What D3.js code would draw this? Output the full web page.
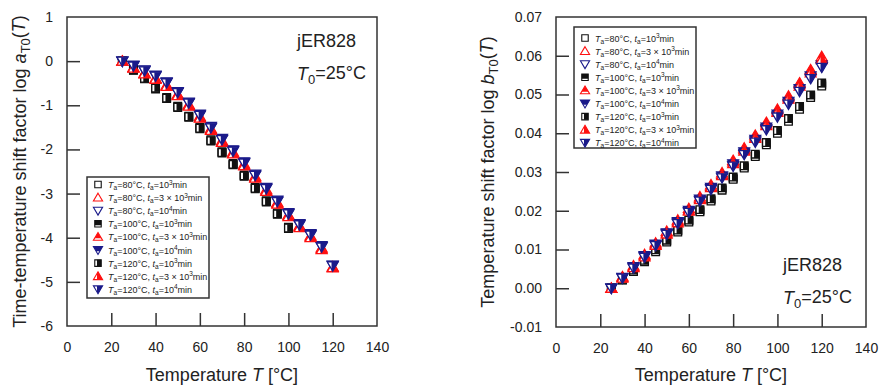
<!DOCTYPE html>
<html>
<head>
<meta charset="utf-8">
<script src="https://cdn.jsdelivr.net/npm/d3@7"></script>
<style>
  body { margin: 0; background: #fff; }
  svg text { font-family: "Liberation Sans", Arial, sans-serif; fill: #222; }
</style>
</head>
<body>
<div id="chart"></div>
<script>
// temperatures of the measured points [degC]
var temps = [25, 30, 35, 40, 45, 50, 55, 60, 65, 70, 75, 80, 85, 90, 95, 100, 105, 110, 115, 120];

// log aT0(T), left panel (square series stop at 100 degC)
var aSq80  = [0, -0.19, -0.38, -0.60, -0.82, -1.02, -1.25, -1.50, -1.78, -2.05, -2.32, -2.58, -2.86, -3.16, -3.44, -3.76];
var aUp80  = [0, -0.15, -0.28, -0.40, -0.56, -0.77, -1.00, -1.28, -1.55, -1.83, -2.09, -2.36, -2.64, -2.94, -3.22, -3.50, -3.75, -3.98, -4.25, -4.67];
var aDn80  = [0, -0.10, -0.21, -0.33, -0.48, -0.70, -0.94, -1.22, -1.50, -1.77, -2.03, -2.30, -2.58, -2.88, -3.17, -3.45, -3.70, -3.93, -4.20, -4.63];
var aSq100 = [0, -0.21, -0.40, -0.63, -0.85, -1.05, -1.27, -1.53, -1.81, -2.08, -2.35, -2.61, -2.89, -3.19, -3.47, -3.79];
var aUp100 = [0, -0.14, -0.27, -0.39, -0.54, -0.75, -0.98, -1.25, -1.53, -1.80, -2.06, -2.33, -2.61, -2.91, -3.20, -3.48, -3.73, -3.96, -4.23, -4.66];
var aDn100 = [0, -0.09, -0.20, -0.32, -0.47, -0.69, -0.93, -1.20, -1.48, -1.75, -2.01, -2.28, -2.56, -2.86, -3.15, -3.43, -3.68, -3.91, -4.18, -4.62];
var aSq120 = [0, -0.20, -0.39, -0.61, -0.84, -1.04, -1.26, -1.52, -1.80, -2.07, -2.34, -2.60, -2.88, -3.18, -3.46, -3.78];
var aUp120 = [0, -0.16, -0.29, -0.41, -0.57, -0.78, -1.02, -1.29, -1.57, -1.84, -2.10, -2.37, -2.65, -2.95, -3.24, -3.52, -3.77, -4.00, -4.27, -4.68];
var aDn120 = [0, -0.11, -0.22, -0.34, -0.49, -0.71, -0.95, -1.23, -1.51, -1.78, -2.04, -2.31, -2.59, -2.89, -3.18, -3.46, -3.71, -3.94, -4.21, -4.64];

// log bT0(T), right panel
var bSq80  = [0, 0.0022, 0.0045, 0.0070, 0.0097, 0.0122, 0.0148, 0.0174, 0.0200, 0.0228, 0.0256, 0.0284, 0.0313, 0.0343, 0.0373, 0.0404, 0.0435, 0.0466, 0.0496, 0.0526];
var bUp80  = [0, 0.0028, 0.0055, 0.0084, 0.0114, 0.0143, 0.0172, 0.0202, 0.0232, 0.0263, 0.0294, 0.0326, 0.0358, 0.0391, 0.0424, 0.0458, 0.0492, 0.0527, 0.0561, 0.0594];
var bDn80  = [0, 0.0027, 0.0054, 0.0082, 0.0112, 0.0141, 0.0169, 0.0198, 0.0227, 0.0257, 0.0287, 0.0317, 0.0348, 0.0380, 0.0412, 0.0445, 0.0478, 0.0511, 0.0544, 0.0572];
var bSq100 = [0, 0.0021, 0.0043, 0.0068, 0.0094, 0.0119, 0.0145, 0.0171, 0.0197, 0.0225, 0.0253, 0.0281, 0.0310, 0.0340, 0.0370, 0.0400, 0.0431, 0.0462, 0.0492, 0.0522];
var bUp100 = [0, 0.0030, 0.0058, 0.0087, 0.0117, 0.0147, 0.0176, 0.0206, 0.0236, 0.0267, 0.0298, 0.0330, 0.0362, 0.0395, 0.0428, 0.0462, 0.0496, 0.0530, 0.0564, 0.0598];
var bDn100 = [0, 0.0028, 0.0056, 0.0084, 0.0114, 0.0143, 0.0172, 0.0201, 0.0230, 0.0260, 0.0290, 0.0321, 0.0352, 0.0384, 0.0416, 0.0449, 0.0482, 0.0515, 0.0548, 0.0576];
var bSq120 = [0, 0.0023, 0.0047, 0.0072, 0.0099, 0.0124, 0.0150, 0.0176, 0.0203, 0.0231, 0.0259, 0.0287, 0.0316, 0.0346, 0.0376, 0.0407, 0.0438, 0.0469, 0.0499, 0.0530];
var bUp120 = [0, 0.0026, 0.0053, 0.0081, 0.0111, 0.0140, 0.0169, 0.0199, 0.0229, 0.0260, 0.0291, 0.0322, 0.0354, 0.0387, 0.0420, 0.0454, 0.0488, 0.0522, 0.0556, 0.0590];
var bDn120 = [0, 0.0026, 0.0052, 0.0080, 0.0110, 0.0139, 0.0167, 0.0196, 0.0225, 0.0255, 0.0285, 0.0315, 0.0345, 0.0377, 0.0409, 0.0442, 0.0475, 0.0508, 0.0541, 0.0570];

var leftSeries = [aSq80, aUp80, aDn80, aSq100, aUp100, aDn100, aSq120, aUp120, aDn120];
var rightSeries = [bSq80, bUp80, bDn80, bSq100, bUp100, bDn100, bSq120, bUp120, bDn120];

// legend text parts
var annealTemps = [80, 80, 80, 100, 100, 100, 120, 120, 120];
var annealMant = ["", "3 \u00d7 ", "", "", "3 \u00d7 ", "", "", "3 \u00d7 ", ""];
var annealExp = ["3", "3", "4", "3", "3", "4", "3", "3", "4"];

var xTicks = [0, 20, 40, 60, 80, 100, 120, 140];
var aTicks = [-6, -5, -4, -3, -2, -1, 0, 1];
var bTicks = [-0.01, 0, 0.01, 0.02, 0.03, 0.04, 0.05, 0.06, 0.07];

// marker styles (square / up / down, open / top-filled / right-filled)
var shapeOf = ["sq", "up", "dn"];
var colorOf = ["#111", "#ff1010", "#1a1a8a"];
var fillOf = ["open", "top", "right"];
var shapePath = {
  sq: "M-3.8,-3.8H3.8V3.8H-3.8Z",
  up: "M0,-5.2L5.4,4L-5.4,4Z",
  dn: "M0,5.2L5.4,-4L-5.4,-4Z"
};

var svg = d3.select("#chart").append("svg")
  .attr("width", 880)
  .attr("height", 385);

var defs = svg.append("defs");
defs.append("clipPath").attr("id", "clip-top").attr("clipPathUnits", "userSpaceOnUse")
  .append("rect").attr("x", -7).attr("y", -7).attr("width", 14).attr("height", 8.6);
defs.append("clipPath").attr("id", "clip-right").attr("clipPathUnits", "userSpaceOnUse")
  .append("rect").attr("x", -1.2).attr("y", -7).attr("width", 9).attr("height", 14);

function paintMarker(sel, idx) {
  var shape = shapeOf[idx % 3], color = colorOf[idx % 3], fill = fillOf[Math.floor(idx / 3)];
  sel.append("path").attr("d", shapePath[shape]).attr("fill", "#fff");
  if (fill != "open") {
    sel.append("path").attr("d", shapePath[shape])
      .attr("fill", color)
      .attr("clip-path", "url(#clip-" + fill + ")");
  }
  sel.append("path").attr("d", shapePath[shape])
    .attr("fill", "none")
    .attr("stroke", color)
    .attr("stroke-width", 1.3)
    .attr("stroke-linejoin", "miter");
}

function drawPanel(p) {
  var x = d3.scaleLinear().domain([0, 140]).range([p.left, p.right]);
  var y = d3.scaleLinear().domain(p.yDomain).range([p.bottom, p.top]);
  var g = svg.append("g");

  var xAxis = g.append("g")
    .attr("transform", `translate(0, ${p.bottom})`)
    .call(d3.axisBottom(x).tickValues(xTicks).tickSizeInner(-13).tickSizeOuter(0).tickPadding(16)
      .tickFormat(d => String(d)));
  var yAxis = g.append("g")
    .attr("transform", `translate(${p.left}, 0)`)
    .call(d3.axisLeft(y).tickValues(p.yTicks).tickSizeInner(-13).tickSizeOuter(0).tickPadding(14)
      .tickFormat(p.fmt));
  [xAxis, yAxis].forEach(function(a) {
    a.select(".domain").remove();
    a.selectAll("line").attr("stroke", "#333").attr("stroke-width", 1.5);
    a.selectAll("text").attr("font-size", "14px").attr("fill", "#222")
      .attr("font-family", "'Liberation Sans', Arial, sans-serif");
  });
  // hide the end ticks which sit on the frame
  xAxis.selectAll(".tick").filter(d => d == 0 || d == 140).select("line").remove();
  yAxis.selectAll(".tick").filter(d => d == p.yDomain[0] || d == p.yDomain[1]).select("line").remove();

  // data points
  p.series.forEach(function(vals, idx) {
    var pts = vals.map((v, i) => [temps[i], v]);
    var m = g.selectAll(null).data(pts).enter().append("g")
      .attr("transform", d => `translate(${x(d[0])}, ${y(d[1])})`);
    paintMarker(m, idx);
  });

  // frame
  g.append("rect")
    .attr("x", p.left).attr("y", p.top)
    .attr("width", p.right - p.left).attr("height", p.bottom - p.top)
    .attr("fill", "none").attr("stroke", "#333").attr("stroke-width", 1.5);

  // x title
  var xt = g.append("text")
    .attr("x", (p.left + p.right) / 2).attr("y", 381)
    .attr("text-anchor", "middle").attr("font-size", "18px");
  xt.append("tspan").text("Temperature ");
  xt.append("tspan").attr("font-style", "italic").text("T");
  xt.append("tspan").text(" [\u00b0C]");

  // y title
  var yt = g.append("text")
    .attr("transform", `translate(${p.yTitleX}, ${(p.top + p.bottom) / 2}) rotate(-90)`)
    .attr("text-anchor", "middle").attr("font-size", "18px");
  yt.append("tspan").text(p.yTitle + " log ");
  yt.append("tspan").attr("font-style", "italic").text(p.yVar);
  yt.append("tspan").attr("font-size", "13px").attr("dy", "0.3em").text("T0");
  yt.append("tspan").attr("dy", "-0.25em").text("(");
  yt.append("tspan").attr("font-style", "italic").text("T");
  yt.append("tspan").text(")");

  // annotation
  g.append("text").attr("x", p.noteX).attr("y", p.noteY).attr("font-size", "18px").text("jER828");
  var nt = g.append("text").attr("x", p.noteX).attr("y", p.noteY + 33).attr("font-size", "18px");
  nt.append("tspan").attr("font-style", "italic").text("T");
  nt.append("tspan").attr("font-size", "13px").attr("dy", "0.3em").text("0");
  nt.append("tspan").attr("dy", "-0.3em").text("=25\u00b0C");

  // legend
  var lg = g.append("g").attr("transform", `translate(${p.legX}, ${p.legY})`);
  lg.append("rect")
    .attr("width", 122).attr("height", 121)
    .attr("fill", "#fff").attr("stroke", "#333").attr("stroke-width", 1.5);
  annealTemps.forEach(function(ta, i) {
    var row = lg.append("g").attr("transform", `translate(0, ${p.legRow0 + i * 13.1})`);
    var mk = row.append("g").attr("transform", "translate(11, 0) scale(0.85)");
    paintMarker(mk, i);
    var t = row.append("text").attr("x", 21).attr("y", 3.5).attr("font-size", "9px");
    t.append("tspan").attr("font-style", "italic").text("T");
    t.append("tspan").attr("font-size", "6.5px").attr("dy", "2").text("a");
    t.append("tspan").attr("dy", "-2").text("=" + ta + "\u00b0C, ");
    t.append("tspan").attr("font-style", "italic").text("t");
    t.append("tspan").attr("font-size", "6.5px").attr("dy", "2").text("a");
    t.append("tspan").attr("dy", "-2").text("=" + annealMant[i] + "10");
    t.append("tspan").attr("font-size", "6.5px").attr("dy", "-3.5").text(annealExp[i]);
    t.append("tspan").attr("dy", "3.5").text("min");
  });
}

drawPanel({
  left: 67, right: 377, top: 17, bottom: 326,
  yDomain: [-6, 1], yTicks: aTicks, fmt: d => String(d),
  series: leftSeries,
  yTitle: "Time-temperature shift factor", yVar: "a", yTitleX: 26,
  noteX: 297, noteY: 47,
  legX: 87, legY: 177, legRow0: 7.5
});

drawPanel({
  left: 556, right: 866, top: 17, bottom: 327,
  yDomain: [-0.01, 0.07], yTicks: bTicks, fmt: d => d.toFixed(2),
  series: rightSeries,
  yTitle: "Temperature shift factor", yVar: "b", yTitleX: 494,
  noteX: 783, noteY: 271,
  legX: 574, legY: 27, legRow0: 11
});
</script>
</body>
</html>
